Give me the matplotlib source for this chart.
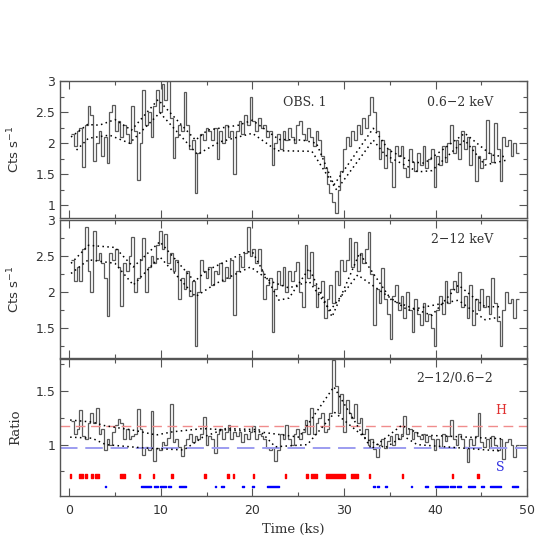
import numpy as np
import matplotlib.pyplot as plt
from matplotlib.ticker import MultipleLocator, FormatStrFormatter

# light curves, 0.3 ks bins starting at 0.2 ks
t_start = 0.2
bin_ks = 0.3

soft = [2.15, 1.95, 2.2, 2.25, 1.62, 2.3, 2.6, 2.45, 1.72, 2.0,
        2.2, 1.8, 2.1, 1.69, 2.5, 2.62, 2.2, 2.35, 2.1, 2.3,
        2.15, 2.0, 2.6, 2.2, 1.41, 2.0, 2.86, 2.3, 2.5, 2.1,
        2.6, 2.85, 2.5, 2.95, 2.7, 3.0, 2.4, 1.76, 2.1, 2.3,
        2.2, 2.82, 2.3, 1.9, 2.05, 1.2, 1.85, 2.15, 2.05, 2.25,
        2.2, 2.05, 2.25, 1.75, 2.2, 2.0, 2.3, 2.1, 2.2, 1.5,
        2.2, 2.35, 2.15, 2.45, 2.3, 2.74, 2.35, 2.2, 2.4, 2.25,
        2.3, 2.1, 2.2, 1.65, 2.0, 2.15, 1.9, 2.2, 2.05, 2.25,
        2.1, 2.0, 2.3, 2.35, 2.15, 2.05, 2.25, 2.1, 1.95, 2.2,
        2.05, 1.8, 1.6, 1.35, 1.2, 1.05, 0.88, 1.25, 1.55, 1.9,
        2.1, 1.95, 2.2, 2.05, 2.3, 2.15, 2.4, 2.25, 2.45, 2.75,
        2.5, 2.2, 1.75, 2.05, 1.6, 1.9, 1.7, 1.3, 1.95, 1.8,
        1.95, 1.6, 1.45, 1.9, 1.7, 1.55, 1.85, 1.65, 1.95, 1.6,
        1.75, 1.9, 1.3, 1.8, 1.65, 1.95, 1.7, 2.0, 2.3, 1.85,
        2.05, 1.75, 2.2, 1.9, 2.1, 1.65, 1.95, 1.4, 1.8, 1.6,
        1.75, 2.38, 1.85, 1.7, 2.32, 1.9, 1.4, 2.1, 1.95, 2.05,
        1.8, 2.0, 1.85]

hard = [2.45, 2.15, 2.35, 2.15, 2.6, 2.9, 2.3, 2.0, 2.85, 2.45,
        2.55, 2.4, 2.2, 1.67, 2.55, 2.45, 2.6, 2.35, 1.81, 2.4,
        2.3, 2.5, 2.77, 2.0, 2.2, 2.45, 2.75, 2.0, 2.35, 2.5,
        2.4, 2.65, 2.85, 2.6, 2.8, 2.4, 2.55, 2.3, 2.45, 1.9,
        2.2, 2.05, 2.3, 1.95, 2.15, 1.25, 2.0, 2.45, 2.3, 2.2,
        2.35, 2.1, 2.3, 2.25, 2.4, 2.15, 2.35, 2.2, 2.45, 1.68,
        2.3, 2.5, 2.35, 2.55, 2.9, 2.5, 2.6, 2.4, 2.6, 2.3,
        1.9, 2.1, 2.2, 1.45, 2.05, 2.3, 2.1, 2.35, 2.0, 2.3,
        2.15, 2.3, 2.42, 2.0, 1.8, 2.65, 2.2, 2.56, 2.1, 1.8,
        2.0, 2.15, 1.65, 1.9, 2.1, 1.85, 2.3, 2.1, 2.45, 2.3,
        2.45, 2.75, 2.35, 2.7, 2.3, 2.55, 2.4, 2.6, 2.84, 2.25,
        1.55, 2.05, 1.85, 2.33, 1.9, 1.7, 1.36, 1.95, 2.1, 1.75,
        1.95, 1.65, 2.0, 1.75, 1.45, 1.9, 1.7, 1.55, 1.85, 1.6,
        1.7, 1.5, 1.25, 1.75, 1.95, 1.7, 2.15, 1.85, 2.05, 2.16,
        2.0, 2.28, 1.8, 1.95, 1.65, 2.1, 1.55, 1.9, 1.75, 2.05,
        1.8, 1.95, 1.7, 2.2, 1.85, 1.6, 1.25, 1.75, 2.0, 1.85,
        1.9, 1.65, 1.9]

ratio = [1.22, 1.1, 1.15, 1.32, 1.08, 1.05, 1.2, 1.3, 1.2, 1.34,
         1.1, 1.15, 0.95, 1.05, 1.0, 1.12, 1.18, 1.24, 1.2, 1.05,
         1.15, 1.05, 1.08, 1.1, 1.33, 1.15, 0.9, 0.98, 0.95, 1.31,
         0.85, 0.97, 0.95, 1.02, 1.0, 1.06, 1.38, 1.02, 1.05, 0.98,
         0.89, 1.0, 1.05, 1.1, 1.02, 1.08, 1.05, 1.1, 1.26, 1.0,
         1.08, 1.05, 0.92, 1.1, 1.15, 1.05, 1.12, 1.18, 1.05, 1.12,
         1.08, 1.12, 1.02, 1.1, 1.05, 1.12, 1.17, 1.05, 1.1, 1.08,
         1.05, 0.97, 0.95, 0.97, 0.85, 0.95, 1.1, 1.05, 1.18, 1.05,
         1.0, 1.1, 1.15, 1.05, 1.12, 1.23, 1.1, 1.34, 1.1, 1.2,
         1.25, 1.3, 1.12, 1.15, 1.3, 1.79, 1.55, 1.3, 1.47, 1.12,
         1.42, 1.3, 1.25, 1.38, 1.2, 1.25, 1.1, 1.15, 1.0, 1.05,
         0.96, 0.88, 1.0, 1.05, 0.97, 1.03, 1.08, 1.0, 1.1, 1.05,
         1.1, 1.27, 1.1, 1.15, 1.05, 1.12, 1.08, 1.05, 1.1, 1.02,
         1.08, 1.05, 0.95, 1.05, 0.98, 1.1, 1.03, 1.08, 1.23, 1.05,
         1.0, 1.1, 1.05, 0.98, 0.84, 1.05, 1.0, 1.08, 1.3, 1.02,
         0.98, 1.05, 0.97, 1.08, 1.0, 0.95, 1.05, 0.87, 1.02, 1.05,
         1.0, 0.88, 1.0]

# smoothed curves (dotted)
soft_sm1_t = [0.2, 2.0, 3.3, 5.0, 6.8, 9.7, 13.8, 15.1, 18.5, 20.0, 22.9, 25.5, 27.0, 28.9, 33.2, 34.9, 37.4, 38.8, 43.2, 46.1, 47.8]
soft_sm1_y = [2.10, 2.30, 2.29, 2.38, 2.21, 2.70, 2.05, 2.21, 2.29, 2.37, 2.06, 2.05, 2.00, 1.33, 2.24, 1.89, 1.70, 1.68, 2.16, 1.81, 1.78]
soft_sm2_t = [0.8, 2.1, 4.4, 6.6, 9.9, 14.0, 16.4, 20.0, 22.7, 26.5, 29.2, 33.2, 34.5, 38.1, 39.6, 43.2, 45.4, 47.8]
soft_sm2_y = [1.89, 2.08, 2.13, 2.00, 2.49, 1.82, 2.02, 2.16, 1.88, 1.87, 1.25, 2.05, 1.81, 1.54, 1.56, 2.05, 1.65, 1.73]

hard_sm1_t = [0.2, 2.1, 5.0, 7.0, 9.9, 13.7, 15.0, 19.3, 20.0, 22.9, 24.0, 26.2, 28.7, 31.7, 35.2, 39.6, 42.5, 45.4, 47.2]
hard_sm1_y = [2.40, 2.65, 2.62, 2.35, 2.70, 2.15, 2.30, 2.56, 2.56, 1.89, 1.92, 2.33, 1.66, 2.54, 1.89, 1.68, 2.10, 1.80, 1.80]
hard_sm2_t = [0.2, 2.1, 5.0, 7.0, 9.9, 13.8, 16.0, 19.8, 22.0, 24.0, 26.2, 28.5, 31.5, 37.0, 42.5, 45.4, 47.2]
hard_sm2_y = [2.26, 2.45, 2.40, 2.10, 2.49, 1.94, 2.12, 2.35, 2.15, 2.06, 2.15, 1.75, 2.24, 1.75, 1.89, 1.62, 1.66]

ratio_sm1_t = [0.1, 2.6, 3.7, 7.3, 9.5, 11.3, 14.6, 20.7, 25.1, 28.9, 33.0, 36.3, 38.5, 47.2]
ratio_sm1_y = [1.23, 1.21, 1.18, 1.13, 1.09, 1.12, 1.15, 1.12, 1.07, 1.54, 0.96, 1.18, 1.09, 1.055]
ratio_sm2_t = [0.1, 2.5, 4.0, 8.0, 12.5, 14.6, 17.1, 20.7, 22.5, 26.0, 29.0, 32.5, 34.5, 36.5, 38.0, 47.2]
ratio_sm2_y = [1.07, 1.06, 1.00, 0.97, 0.95, 1.07, 1.15, 1.14, 0.98, 1.00, 1.30, 1.05, 0.97, 1.08, 1.00, 0.94]

h_level = 1.177
s_level = 0.967

# intervals where ratio is above H (red) / below S (blue), ks
hard_start = [0.1, 1.09, 1.7, 2.43, 2.87, 5.5, 7.6, 9.1, 11.15, 14.75, 17.25, 17.85, 20.05,
              23.55, 25.9, 26.35, 28.0, 30.8, 32.75, 36.35, 41.75, 44.55]
hard_end = [0.25, 1.46, 1.9, 2.6, 3.26, 6.05, 7.76, 9.25, 11.3, 14.9, 17.4, 18.0, 20.2,
            23.7, 26.1, 27.1, 30.15, 31.5, 32.9, 36.5, 41.9, 44.7]
soft_start = [3.95, 7.8, 9.3, 9.86, 10.8, 12.0, 15.9, 16.6, 18.9, 20.0, 21.6,
              33.2, 33.6, 34.5, 37.35, 38.8, 39.9, 41.6, 42.3, 43.6, 45.0, 45.9, 48.4]
soft_end = [4.05, 8.9, 9.7, 10.6, 11.1, 12.8, 16.0, 16.9, 19.1, 20.2, 22.9,
            33.4, 33.8, 34.7, 37.45, 39.2, 41.4, 42.1, 42.8, 44.3, 45.3, 47.2, 49.0]

edges = t_start + bin_ks * np.arange(len(soft) + 1)

plt.rcParams['font.family'] = 'DejaVu Sans'
fig = plt.figure(figsize=(5.56, 5.56), dpi=100)
ax1 = fig.add_axes([0.108, 0.608, 0.840, 0.2464])
ax2 = fig.add_axes([0.108, 0.3561, 0.840, 0.2482])
ax3 = fig.add_axes([0.108, 0.1079, 0.840, 0.2464])

axc = '#555555'
lc = '#5a5a5a'
dots = (0, (1, 2.2))

for ax in (ax1, ax2, ax3):
    ax.set_xlim(-1, 50)
    ax.xaxis.set_major_locator(MultipleLocator(10))
    ax.xaxis.set_minor_locator(MultipleLocator(5))
    ax.yaxis.set_minor_locator(MultipleLocator(0.25))
    ax.tick_params(which='both', direction='in', top=True, right=True, colors=axc,
                   labelsize=9, labelcolor='#333333')
    ax.tick_params(which='major', length=5.5, width=0.8)
    ax.tick_params(which='minor', length=3, width=0.8)
    ax.yaxis.set_major_formatter(FormatStrFormatter('%g'))
    for s in ax.spines.values():
        s.set_color(axc)
        s.set_linewidth(1.0)

# top: soft band
ax1.stairs(soft, edges, color=lc, lw=0.9, baseline=None)
ax1.plot(soft_sm1_t, soft_sm1_y, color='k', ls=dots, lw=1.1)
ax1.plot(soft_sm2_t, soft_sm2_y, color='k', ls=dots, lw=1.1)
ax1.set_ylim(0.8, 3.0)
ax1.yaxis.set_major_locator(MultipleLocator(0.5))
ax1.set_xticklabels([])
ax1.text(23.4, 2.66, 'OBS. 1', family='DejaVu Serif', fontsize=9, va='center', color='#333333')
ax1.text(46.3, 2.66, '0.6\u22122 keV', family='DejaVu Serif', fontsize=9, va='center', ha='right', color='#333333')
ax1.set_ylabel('Cts s$^{-1}$', fontsize=9.5, color='#333333')
ax1.yaxis.set_label_coords(-0.081, 0.5)

# middle: hard band
ax2.stairs(hard, edges, color=lc, lw=0.9, baseline=None)
ax2.plot(hard_sm1_t, hard_sm1_y, color='k', ls=dots, lw=1.1)
ax2.plot(hard_sm2_t, hard_sm2_y, color='k', ls=dots, lw=1.1)
ax2.set_ylim(1.09, 3.0)
ax2.yaxis.set_major_locator(MultipleLocator(0.5))
ax2.set_xticklabels([])
ax2.text(46.3, 2.73, '2\u221212 keV', family='DejaVu Serif', fontsize=9, va='center', ha='right', color='#333333')
ax2.set_ylabel('Cts s$^{-1}$', fontsize=9.5, color='#333333')
ax2.yaxis.set_label_coords(-0.081, 0.5)

# bottom: hardness ratio
ax3.axhline(h_level, color='#f08c8c', lw=1.0, dashes=(7, 4))
ax3.axhline(s_level, color='#9c9cf0', lw=1.4, dashes=(9, 4))
ax3.stairs(ratio, edges, color=lc, lw=0.9, baseline=None)
ax3.plot(ratio_sm1_t, ratio_sm1_y, color='k', ls=dots, lw=1.1)
ax3.plot(ratio_sm2_t, ratio_sm2_y, color='k', ls=dots, lw=1.1)
ax3.broken_barh([(a, max(b - a, 0.15)) for a, b in zip(hard_start, hard_end)], (0.69, 0.04), color='red')
ax3.broken_barh([(a, max(b - a, 0.12)) for a, b in zip(soft_start, soft_end)], (0.603, 0.013), color='blue')
ax3.set_ylim(0.52, 1.8)
ax3.yaxis.set_major_locator(MultipleLocator(0.5))
ax3.text(47.1, 1.32, 'H', family='DejaVu Serif', fontsize=9, color='#e03030', va='center', ha='center')
ax3.text(47.1, 0.79, 'S', family='DejaVu Serif', fontsize=9, color='#3030e0', va='center', ha='center')
ax3.text(46.3, 1.616, '2\u221212/0.6\u22122', family='DejaVu Serif', fontsize=9, va='center', ha='right', color='#333333')
ax3.set_ylabel('Ratio', family='DejaVu Serif', fontsize=9.5, color='#333333')
ax3.yaxis.set_label_coords(-0.081, 0.5)
ax3.set_xlabel('Time (ks)', family='DejaVu Serif', fontsize=9.5, color='#333333')
ax3.tick_params(axis='x', pad=6)

fig.savefig('out.png', dpi=100)
